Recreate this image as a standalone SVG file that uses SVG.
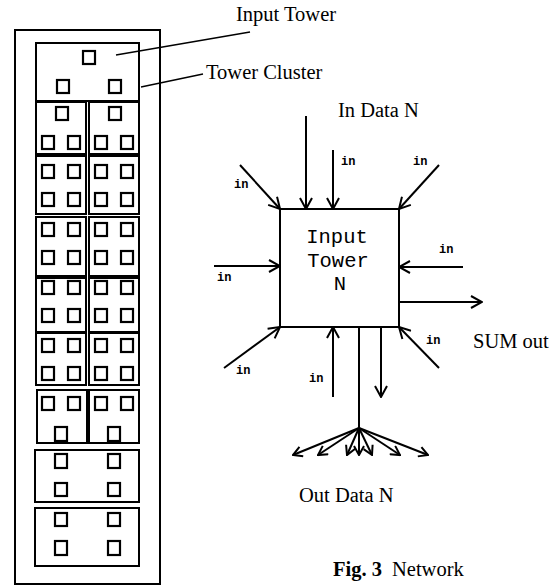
<svg xmlns="http://www.w3.org/2000/svg" width="558" height="587" viewBox="0 0 558 587">
<style>
  .bx{fill:none;stroke:#000;stroke-width:2}
  .sq{fill:none;stroke:#000;stroke-width:2.2}
  .ln{fill:none;stroke:#000;stroke-width:2}
  .ld{fill:none;stroke:#000;stroke-width:1.5}
  .lbl{font-family:"Liberation Serif","Times New Roman",serif;font-size:20.5px;fill:#000}
  .in{font-family:"Liberation Mono","Courier New",monospace;font-size:12px;font-weight:bold;fill:#000}
  .mono{font-family:"Liberation Mono","Courier New",monospace;font-size:20.5px;fill:#000}
</style>
<defs>
  <marker id="ah" viewBox="-12 -7 13 14" refX="0" refY="0" markerWidth="13" markerHeight="14" markerUnits="userSpaceOnUse" orient="auto">
    <path d="M-11,-6 L0,0 L-11,6" fill="none" stroke="#000" stroke-width="2"/>
  </marker>
  <marker id="ahs" viewBox="-10 -6 11 12" refX="0" refY="0" markerWidth="11" markerHeight="12" markerUnits="userSpaceOnUse" orient="auto">
    <path d="M-9,-5 L0,0 L-9,5" fill="none" stroke="#000" stroke-width="2"/>
  </marker>
</defs>
<rect width="558" height="587" fill="#fff"/>

<g id="tower-cluster">
  <rect class="bx" x="15" y="30" width="145" height="554"/>
  <g id="input-tower-box">
    <rect class="bx" x="36" y="43" width="103" height="58"/>
    <rect class="sq" x="83" y="51" width="12" height="13"/>
    <rect class="sq" x="57" y="80" width="12" height="13"/>
    <rect class="sq" x="109" y="80" width="12" height="13"/>
  </g>
  <g id="row1">
    <rect class="bx" x="36" y="102" width="50" height="52"/>
    <rect class="bx" x="89" y="102" width="50" height="52"/>
    <rect class="sq" x="56" y="107" width="12" height="13"/>
    <rect class="sq" x="109" y="107" width="12" height="13"/>
    <rect class="sq" x="42" y="136" width="12" height="13"/>
    <rect class="sq" x="68" y="136" width="12" height="13"/>
    <rect class="sq" x="95" y="136" width="12" height="13"/>
    <rect class="sq" x="121" y="136" width="12" height="13"/>
  </g>
  <g id="row2">
    <rect class="bx" x="36" y="156" width="50" height="58"/>
    <rect class="bx" x="89" y="156" width="50" height="58"/>
    <rect class="sq" x="42" y="165" width="12" height="13"/>
    <rect class="sq" x="68" y="165" width="12" height="13"/>
    <rect class="sq" x="95" y="165" width="12" height="13"/>
    <rect class="sq" x="121" y="165" width="12" height="13"/>
    <rect class="sq" x="42" y="193" width="12" height="13"/>
    <rect class="sq" x="68" y="193" width="12" height="13"/>
    <rect class="sq" x="95" y="193" width="12" height="13"/>
    <rect class="sq" x="121" y="193" width="12" height="13"/>
  </g>
  <g id="row3">
    <rect class="bx" x="36" y="217" width="50" height="59"/>
    <rect class="bx" x="89" y="217" width="50" height="59"/>
    <rect class="sq" x="42" y="223" width="12" height="13"/>
    <rect class="sq" x="68" y="223" width="12" height="13"/>
    <rect class="sq" x="95" y="223" width="12" height="13"/>
    <rect class="sq" x="121" y="223" width="12" height="13"/>
    <rect class="sq" x="42" y="251" width="12" height="13"/>
    <rect class="sq" x="68" y="251" width="12" height="13"/>
    <rect class="sq" x="95" y="251" width="12" height="13"/>
    <rect class="sq" x="121" y="251" width="12" height="13"/>
  </g>
  <g id="row4">
    <rect class="bx" x="36" y="278" width="50" height="54"/>
    <rect class="bx" x="89" y="278" width="50" height="54"/>
    <rect class="sq" x="42" y="281" width="12" height="13"/>
    <rect class="sq" x="68" y="281" width="12" height="13"/>
    <rect class="sq" x="95" y="281" width="12" height="13"/>
    <rect class="sq" x="121" y="281" width="12" height="13"/>
    <rect class="sq" x="42" y="309" width="12" height="13"/>
    <rect class="sq" x="68" y="309" width="12" height="13"/>
    <rect class="sq" x="95" y="309" width="12" height="13"/>
    <rect class="sq" x="121" y="309" width="12" height="13"/>
  </g>
  <g id="row5">
    <rect class="bx" x="36" y="333" width="50" height="52"/>
    <rect class="bx" x="89" y="333" width="50" height="52"/>
    <rect class="sq" x="42" y="339" width="12" height="13"/>
    <rect class="sq" x="68" y="339" width="12" height="13"/>
    <rect class="sq" x="95" y="339" width="12" height="13"/>
    <rect class="sq" x="121" y="339" width="12" height="13"/>
    <rect class="sq" x="42" y="367" width="12" height="13"/>
    <rect class="sq" x="68" y="367" width="12" height="13"/>
    <rect class="sq" x="95" y="367" width="12" height="13"/>
    <rect class="sq" x="121" y="367" width="12" height="13"/>
  </g>
  <g id="row6">
    <rect class="bx" x="37" y="390" width="50" height="53"/>
    <rect class="bx" x="89" y="390" width="50" height="53"/>
    <rect class="sq" x="42" y="397" width="12" height="13"/>
    <rect class="sq" x="68" y="397" width="12" height="13"/>
    <rect class="sq" x="95" y="397" width="12" height="13"/>
    <rect class="sq" x="121" y="397" width="12" height="13"/>
    <rect class="sq" x="55" y="427" width="12" height="14"/>
    <rect class="sq" x="108" y="427" width="12" height="14"/>
  </g>
  <g id="row7">
    <rect class="bx" x="35" y="450" width="104" height="52"/>
    <rect class="sq" x="55" y="454" width="12" height="14"/>
    <rect class="sq" x="108" y="454" width="12" height="14"/>
    <rect class="sq" x="55" y="483" width="12" height="13"/>
    <rect class="sq" x="108" y="483" width="12" height="13"/>
  </g>
  <g id="row8">
    <rect class="bx" x="35" y="508" width="104" height="58"/>
    <rect class="sq" x="55" y="513" width="12" height="13"/>
    <rect class="sq" x="108" y="513" width="12" height="13"/>
    <rect class="sq" x="55" y="541" width="12" height="14"/>
    <rect class="sq" x="108" y="541" width="12" height="14"/>
  </g>
</g>

<g id="callouts">
  <line class="ld" x1="116" y1="55" x2="250" y2="32"/>
  <line class="ld" x1="141" y1="87" x2="203" y2="74"/>
  <text class="lbl" x="236" y="21">Input Tower</text>
  <text class="lbl" x="206" y="79">Tower Cluster</text>
</g>

<g id="input-tower-n">
  <rect class="bx" x="280" y="209" width="119" height="118"/>
  <text class="mono" x="337" y="243" text-anchor="middle">Input</text>
  <text class="mono" x="338" y="267" text-anchor="middle">Tower</text>
  <text class="mono" x="340" y="290" text-anchor="middle">N</text>
</g>

<g id="connectors">
  <line class="ln" x1="306" y1="116" x2="306" y2="209" marker-end="url(#ah)"/>
  <line class="ln" x1="333" y1="150" x2="333" y2="209" marker-end="url(#ah)"/>
  <line class="ln" x1="240" y1="165" x2="280" y2="209" marker-end="url(#ah)"/>
  <line class="ln" x1="439" y1="165" x2="399" y2="209" marker-end="url(#ah)"/>
  <line class="ln" x1="463" y1="267" x2="399" y2="267" marker-end="url(#ah)"/>
  <line class="ln" x1="214" y1="266" x2="280" y2="266" marker-end="url(#ah)"/>
  <line class="ln" x1="399" y1="302" x2="482" y2="302" marker-end="url(#ah)"/>
  <line class="ln" x1="224" y1="368" x2="280" y2="327" marker-end="url(#ah)"/>
  <line class="ln" x1="333" y1="397" x2="333" y2="327" marker-end="url(#ah)"/>
  <line class="ln" x1="439" y1="368" x2="399" y2="327" marker-end="url(#ah)"/>
  <line class="ln" x1="381" y1="327" x2="381" y2="397" marker-end="url(#ah)"/>
  <line class="ln" x1="359" y1="327" x2="359" y2="428"/>
  <line class="ln" x1="359" y1="428" x2="293" y2="455" marker-end="url(#ahs)"/>
  <line class="ln" x1="359" y1="428" x2="318" y2="455" marker-end="url(#ahs)"/>
  <line class="ln" x1="359" y1="428" x2="347" y2="455" marker-end="url(#ahs)"/>
  <line class="ln" x1="359" y1="428" x2="359" y2="455" marker-end="url(#ahs)"/>
  <line class="ln" x1="359" y1="428" x2="372" y2="455" marker-end="url(#ahs)"/>
  <line class="ln" x1="359" y1="428" x2="400" y2="455" marker-end="url(#ahs)"/>
  <line class="ln" x1="359" y1="428" x2="428" y2="455" marker-end="url(#ahs)"/>
</g>

<g id="labels">
  <text class="lbl" x="338" y="117">In Data N</text>
  <text class="lbl" x="473" y="348">SUM out</text>
  <text class="lbl" x="299" y="502">Out Data N</text>
  <text class="in" x="341" y="165">in</text>
  <text class="in" x="234" y="188">in</text>
  <text class="in" x="413" y="165">in</text>
  <text class="in" x="439" y="253">in</text>
  <text class="in" x="217" y="281">in</text>
  <text class="in" x="236" y="374">in</text>
  <text class="in" x="309" y="382">in</text>
  <text class="in" x="426" y="344">in</text>
  <text class="lbl" x="333" y="576" font-weight="bold" font-size="21px">Fig. 3</text>
  <text class="lbl" x="392" y="576">Network</text>
</g>
</svg>
